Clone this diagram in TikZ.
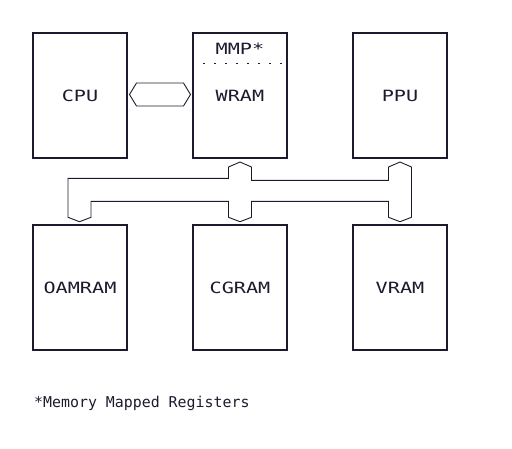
\documentclass[tikz,border=0pt]{standalone}
\usepackage[rgb]{xcolor}
\usepackage{fontspec}
\setmonofont{DejaVu Sans Mono}
\newfontfamily\unitfont[FakeStretch=1.3]{DejaVu Sans Mono}
\usepackage{tikz}
\usetikzlibrary{calc}

\definecolor{ink}{HTML}{1C1B2E}

\tikzset{
  unit/.style={draw=ink, line width=2pt, minimum width=94pt, minimum height=125pt,
    inner sep=0pt, text=ink, font=\unitfont\fontsize{15.5}{18}\selectfont},
  bus/.style={draw=ink, line width=0.9pt, line join=miter},
}

\begin{document}
\begin{tikzpicture}[x=1pt, y=-1pt]

\useasboundingbox (0,0) rectangle (512,448);

%
% Top row
%
\path
(80,95.5) node [unit] (cpu) {CPU};

\path
(240,95.5) node [unit] (wram) {WRAM};

\path
(400,95.5) node [unit] (ppu) {PPU};

% Memory mapped part of WRAM
\path
(240,49) node [text=ink, font=\unitfont\fontsize{15.5}{18}\selectfont] (mmp) {MMP*};

\draw[ink, line width=1.8pt, dash pattern=on 1.8pt off 9.2pt] (wram.west |- 0,63.5) -- (wram.east |- 0,63.5);

%
% Bottom row
%
\path
(80,287.5) node [unit] (oam) {OAMRAM};

\path
(240,287.5) node [unit] (cgram) {CGRAM};

\path
(400,287.5) node [unit] (vram) {VRAM};


% CPU <-> WRAM link
\coordinate (ltip) at ([xshift=1.5pt, yshift=1pt]cpu.east);
\coordinate (rtip) at ([xshift=-1.5pt, yshift=1pt]wram.west);

\draw[bus] (ltip) -- ++(7,-11.5) -- ($(rtip)+(-7,-11.5)$) -- (rtip)
  -- ++(-7,11.5) -- ($(ltip)+(7,11.5)$) -- cycle;


% Bus between WRAM, PPU and the three memories
\coordinate (wtip) at ([yshift=-3pt]wram.south);
\coordinate (ptip) at ([yshift=-3pt]ppu.south);
\coordinate (otip) at ([xshift=-0.5pt, yshift=2.3pt]oam.north);
\coordinate (ctip) at ([yshift=2.3pt]cgram.north);
\coordinate (vtip) at ([yshift=2.3pt]vram.north);

\draw[bus] (wtip) -- ++(11.5,5) -- ++(0,13.3) -| ($(ptip)+(-11.5,5)$) -- (ptip)
  -- ++(11.5,5) -- ($(vtip)+(11.5,-4.4)$) -- (vtip)
  -- ++(-11.5,-4.4) -- ++(0,-16) -| ($(ctip)+(11.5,-4.4)$) -- (ctip)
  -- ++(-11.5,-4.4) -- ++(0,-16) -| ($(otip)+(11.5,-4.4)$) -- (otip)
  -- ++(-11.5,-4.4) -- ++(0,-39) -| ($(wtip)+(-11.5,5)$) -- cycle;


% Footnote
\path
(34,407) node [anchor=base west, inner sep=0pt, text=ink, font=\ttfamily\fontsize{14.9}{17}\selectfont] (note) {*Memory Mapped Registers};

\end{tikzpicture}
\end{document}
